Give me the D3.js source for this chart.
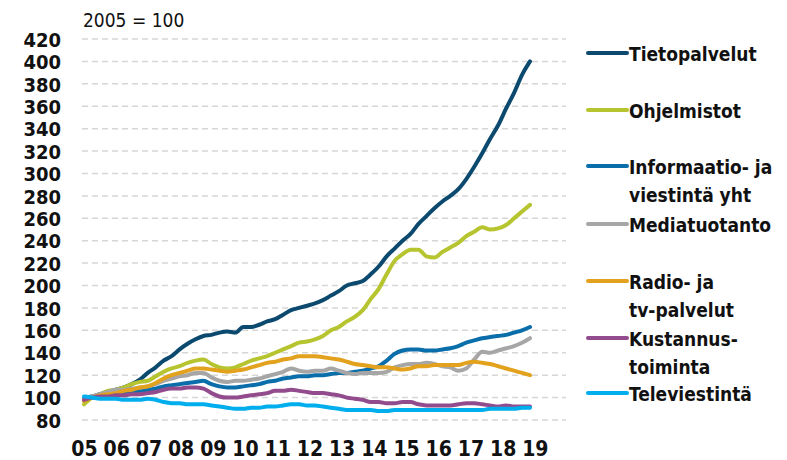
<!DOCTYPE html>
<html>
<head>
<meta charset="utf-8">
<script src="https://cdn.jsdelivr.net/npm/d3@7"></script>
<style>
  html, body { margin: 0; padding: 0; background: #fff; }
  svg { display: block; }
  text { font-family: "DejaVu Sans Condensed", "DejaVu Sans", sans-serif; fill: #111; }
</style>
</head>
<body>
<svg id="chart" width="787" height="460"></svg>
<script>
// Quarterly index values, 2005 = 100 (first point early 2005, last point late 2018)
const startYear = 2005;
const endYear = 2018.85;

const tietopalvelut = [
  100, 101, 103, 105, 107, 109, 112, 116, 122, 127, 133, 137, 143, 148, 152, 155,
  156, 158, 159, 158, 163, 163, 165, 168, 170, 174, 178, 180, 182, 184, 187, 191,
  195, 200, 202, 204, 210, 217, 226, 233, 240, 246, 255, 262, 269, 275, 280, 286,
  295, 306, 318, 331, 343, 358, 372, 388, 400
];
const ohjelmistot = [
  94, 100, 103, 106, 107, 109, 112, 114, 115, 119, 123, 126, 128, 131, 133, 134,
  130, 127, 126, 127, 130, 133, 135, 137, 140, 143, 146, 149, 150, 152, 155, 160,
  163, 168, 172, 178, 188, 197, 210, 222, 228, 232, 232, 226, 225, 230, 234, 238,
  244, 248, 252, 250, 251, 254, 260, 266, 272
];
const informaatio = [
  100, 100, 101, 102, 102, 103, 105, 106, 107, 108, 110, 111, 112, 113, 114, 115,
  112, 110, 109, 109, 110, 111, 112, 114, 115, 117, 118, 119, 119, 120, 120, 121,
  122, 122, 123, 124, 126, 128, 133, 139, 142, 143, 143, 142, 142, 143, 144, 146,
  149, 151, 153, 154, 155, 156, 158, 160, 163
];
const mediatuotanto = [
  100, 101, 103, 105, 107, 107, 108, 109, 110, 112, 115, 117, 119, 120, 122, 122,
  118, 115, 114, 115, 115, 116, 117, 119, 121, 123, 126, 124, 123, 124, 124, 126,
  124, 122, 121, 122, 122, 122, 123, 127, 129, 130, 130, 131, 130, 128, 127, 124,
  126, 134, 141, 140, 142, 144, 146, 149, 153
];
const radioTv = [
  97, 100, 102, 103, 104, 106, 107, 109, 110, 113, 117, 120, 122, 124, 126, 126,
  125, 124, 123, 124, 125, 127, 129, 131, 132, 134, 135, 137, 137, 137, 136, 135,
  134, 132, 130, 129, 128, 127, 127, 126, 125, 126, 128, 128, 129, 129, 129, 129,
  131, 132, 131, 130, 128, 126, 124, 122, 120
];
const kustannus = [
  98, 100, 101, 101, 102, 102, 103, 103, 104, 105, 107, 108, 108, 109, 109, 108,
  104, 101, 100, 100, 101, 102, 103, 104, 106, 106, 107, 106, 105, 104, 104, 103,
  102, 100, 99, 98, 96, 96, 95, 95, 96, 96, 94, 93, 93, 93, 93, 94,
  95, 95, 94, 93, 92, 93, 92, 92, 92
];
const televiestinta = [
  101, 100, 99, 99, 99, 98, 98, 98, 99, 98, 96, 95, 95, 94, 94, 94,
  93, 92, 91, 90, 90, 91, 91, 92, 92, 93, 94, 94, 93, 93, 92, 91,
  90, 89, 89, 89, 89, 88, 88, 89, 89, 89, 89, 89, 89, 89, 89, 89,
  89, 89, 89, 90, 90, 90, 90, 91, 91
];

const seriesNames = [
  ["Tietopalvelut"],
  ["Ohjelmistot"],
  ["Informaatio- ja", "viestintä yht"],
  ["Mediatuotanto"],
  ["Radio- ja", "tv-palvelut"],
  ["Kustannus-", "toiminta"],
  ["Televiestintä"]
];
const seriesValues = [tietopalvelut, ohjelmistot, informaatio, mediatuotanto, radioTv, kustannus, televiestinta];
const seriesColors = ["#0b4a6e", "#b5c42f", "#0a6eaa", "#a6a6a6", "#e3a21d", "#924c8d", "#00aeee"];

const yTicks = [80, 100, 120, 140, 160, 180, 200, 220, 240, 260, 280, 300, 320, 340, 360, 380, 400, 420];
const xTickYears = [2005, 2006, 2007, 2008, 2009, 2010, 2011, 2012, 2013, 2014, 2015, 2016, 2017, 2018, 2019];
const xTickLabels = ["05", "06", "07", "08", "09", "10", "11", "12", "13", "14", "15", "16", "17", "18", "19"];
const baseNote = "2005 = 100";

// Layout
const svg = d3.select("#chart");
const plotLeft = 84, plotRight = 530, gridRight = 566;
const y = d3.scaleLinear().domain([80, 420]).range([420, 39]);
const x = d3.scaleLinear().domain([startYear, endYear]).range([plotLeft, plotRight]);

// gridlines
svg.append("g").selectAll("line").data(yTicks).join("line")
  .attr("x1", 82).attr("x2", gridRight)
  .attr("y1", d => y(d)).attr("y2", d => y(d))
  .attr("stroke", "#d6d6d6").attr("stroke-width", 1.5)
  .attr("stroke-dasharray", "6,4");

// y axis labels
const yAxis = d3.axisLeft(y).tickValues(yTicks).tickSize(0).tickPadding(0);
const gy = svg.append("g").attr("transform", "translate(61,0)").call(yAxis);
gy.select(".domain").remove();
gy.selectAll("text")
  .style("font-family", "'DejaVu Sans Condensed', 'DejaVu Sans', sans-serif")
  .style("font-weight", "bold").style("font-size", "20px").attr("fill", "#111")
  .attr("dy", "0.36em");

// x axis labels
const xAxis = d3.axisBottom(x).tickValues(xTickYears)
  .tickFormat((d, i) => xTickLabels[i]).tickSize(0).tickPadding(0);
const gx = svg.append("g").attr("transform", "translate(0,441)").call(xAxis);
gx.select(".domain").remove();
gx.selectAll("text")
  .style("font-family", "'DejaVu Sans Condensed', 'DejaVu Sans', sans-serif")
  .style("font-weight", "bold").style("font-size", "21px").attr("fill", "#111")
  .attr("dy", "0.71em");

// base note
svg.append("text").attr("x", 83).attr("y", 27)
  .style("font-size", "19px").text(baseNote);

// lines
const n = tietopalvelut.length;
const tAt = i => startYear + i * (endYear - startYear) / (n - 1);
const line = d3.line().x((d, i) => x(tAt(i))).y(d => y(d)).curve(d3.curveMonotoneX);

seriesValues.forEach((vals, k) => {
  svg.append("path").datum(vals)
    .attr("d", line)
    .attr("fill", "none")
    .attr("stroke", seriesColors[k])
    .attr("stroke-width", 4)
    .attr("stroke-linejoin", "round")
    .attr("stroke-linecap", "round");
});

// legend
const legendY = [53, 110, 166, 224, 281, 338, 393];
const lg = svg.append("g");
seriesNames.forEach((lines, k) => {
  const g = lg.append("g").attr("transform", `translate(0,${legendY[k]})`);
  g.append("line").attr("x1", 588).attr("x2", 627).attr("y1", 0).attr("y2", 0)
    .attr("stroke", seriesColors[k]).attr("stroke-width", 4).attr("stroke-linecap", "round");
  lines.forEach((t, j) => {
    g.append("text").attr("x", 629).attr("y", 7.5 + j * 28.5)
      .style("font-weight", "bold").style("font-size", "19px").text(t);
  });
});
</script>
</body>
</html>
